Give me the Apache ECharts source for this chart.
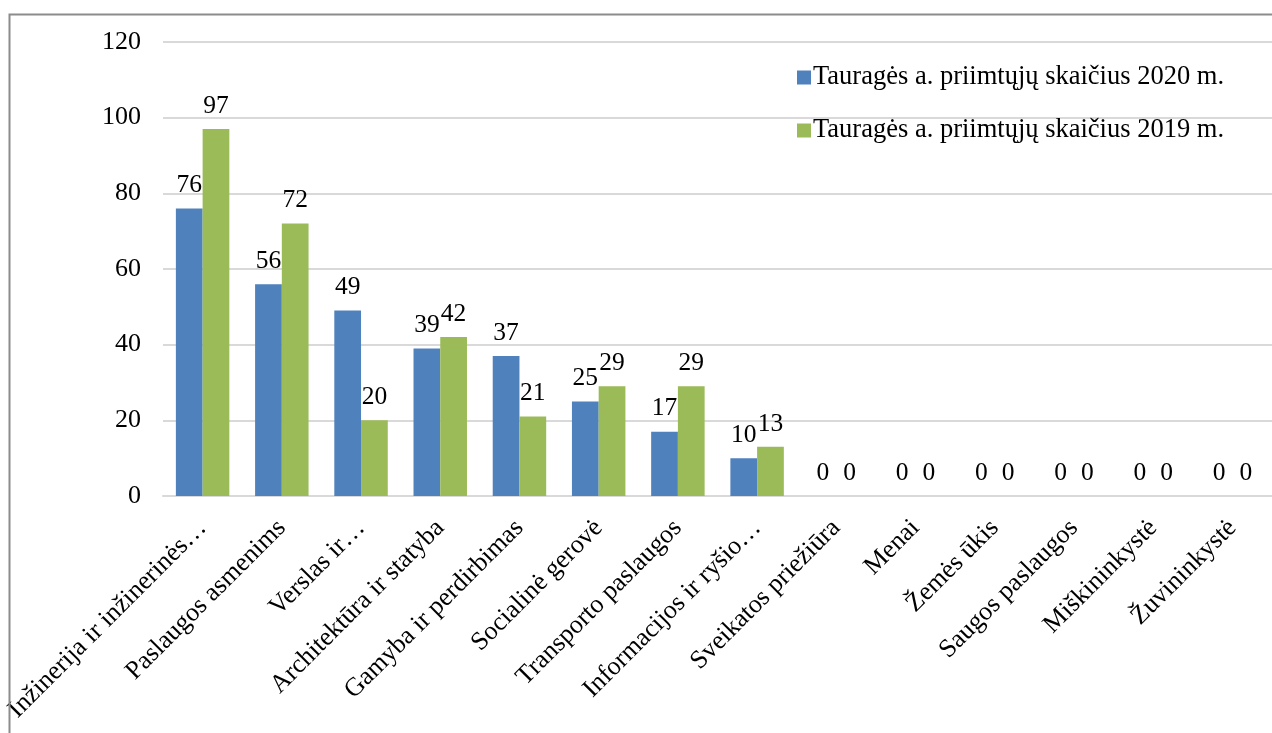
<!DOCTYPE html>
<html>
<head>
<meta charset="utf-8">
<script src="https://cdn.jsdelivr.net/npm/echarts@6/dist/echarts.min.js"></script>
<style>
html,body{margin:0;padding:0;background:#fff;}
#chart{width:1272px;height:733px;}
</style>
</head>
<body>
<div id="chart"></div>
<script>
const categories = [
  "Inžinerija ir inžinerinės…",
  "Paslaugos asmenims",
  "Verslas ir…",
  "Architektūra ir statyba",
  "Gamyba ir perdirbimas",
  "Socialinė gerovė",
  "Transporto paslaugos",
  "Informacijos ir ryšio…",
  "Sveikatos priežiūra",
  "Menai",
  "Žemės ūkis",
  "Saugos paslaugos",
  "Miškininkystė",
  "Žuvininkystė"
];
const series2020 = [76, 56, 49, 39, 37, 25, 17, 10, 0, 0, 0, 0, 0, 0];
const series2019 = [97, 72, 20, 42, 21, 29, 29, 13, 0, 0, 0, 0, 0, 0];
const seriesNames = ["Tauragės a. priimtųjų skaičius 2020 m.", "Tauragės a. priimtųjų skaičius 2019 m."];
const yTicks = { min: 0, max: 120, interval: 20 };

const FONT = "'Liberation Serif', 'Times New Roman', serif";
const chart = echarts.init(document.getElementById('chart'), null, { renderer: 'canvas' });
const labelStyle = {
  show: true, position: 'top', distance: 10,
  fontFamily: FONT, fontSize: 25.5, color: '#000'
};
chart.setOption({
  animation: false,
  backgroundColor: '#fff',
  graphic: [{
    type: 'rect', left: 7, top: 12,
    shape: { width: 1300, height: 800 },
    style: { fill: 'none', stroke: '#8c8c8c', lineWidth: 2 },
    z: 100
  }],
  grid: { left: 163, right: -11, top: 42, bottom: 237, containLabel: false },
  legend: {
    orient: 'vertical',
    left: 792, top: 59,
    itemWidth: 14, itemHeight: 14, itemGap: 26,
    icon: 'rect',
    textStyle: { fontFamily: FONT, fontSize: 26.5, lineHeight: 27, color: '#000', padding: [0, 0, 0, -3] },
    data: seriesNames
  },
  xAxis: {
    type: 'category',
    data: categories,
    axisLine: { lineStyle: { color: '#d9d9d9', width: 2 } },
    axisTick: { show: false },
    axisLabel: {
      interval: 0, rotate: 45, margin: 28,
      fontFamily: FONT, fontSize: 26, color: '#000'
    }
  },
  yAxis: {
    type: 'value',
    min: yTicks.min, max: yTicks.max, interval: yTicks.interval,
    axisLine: { show: false },
    axisTick: { show: false },
    splitLine: { lineStyle: { color: '#d9d9d9', width: 2 } },
    axisLabel: { margin: 22, fontFamily: FONT, fontSize: 26, color: '#000' }
  },
  series: [
    {
      name: seriesNames[0], type: 'bar', data: series2020,
      barGap: '0%', barCategoryGap: '32.5%',
      itemStyle: { color: '#4F81BD' },
      label: labelStyle
    },
    {
      name: seriesNames[1], type: 'bar', data: series2019,
      barGap: '0%', barCategoryGap: '32.5%',
      itemStyle: { color: '#9BBB59' },
      label: labelStyle
    }
  ]
});
</script>
</body>
</html>
